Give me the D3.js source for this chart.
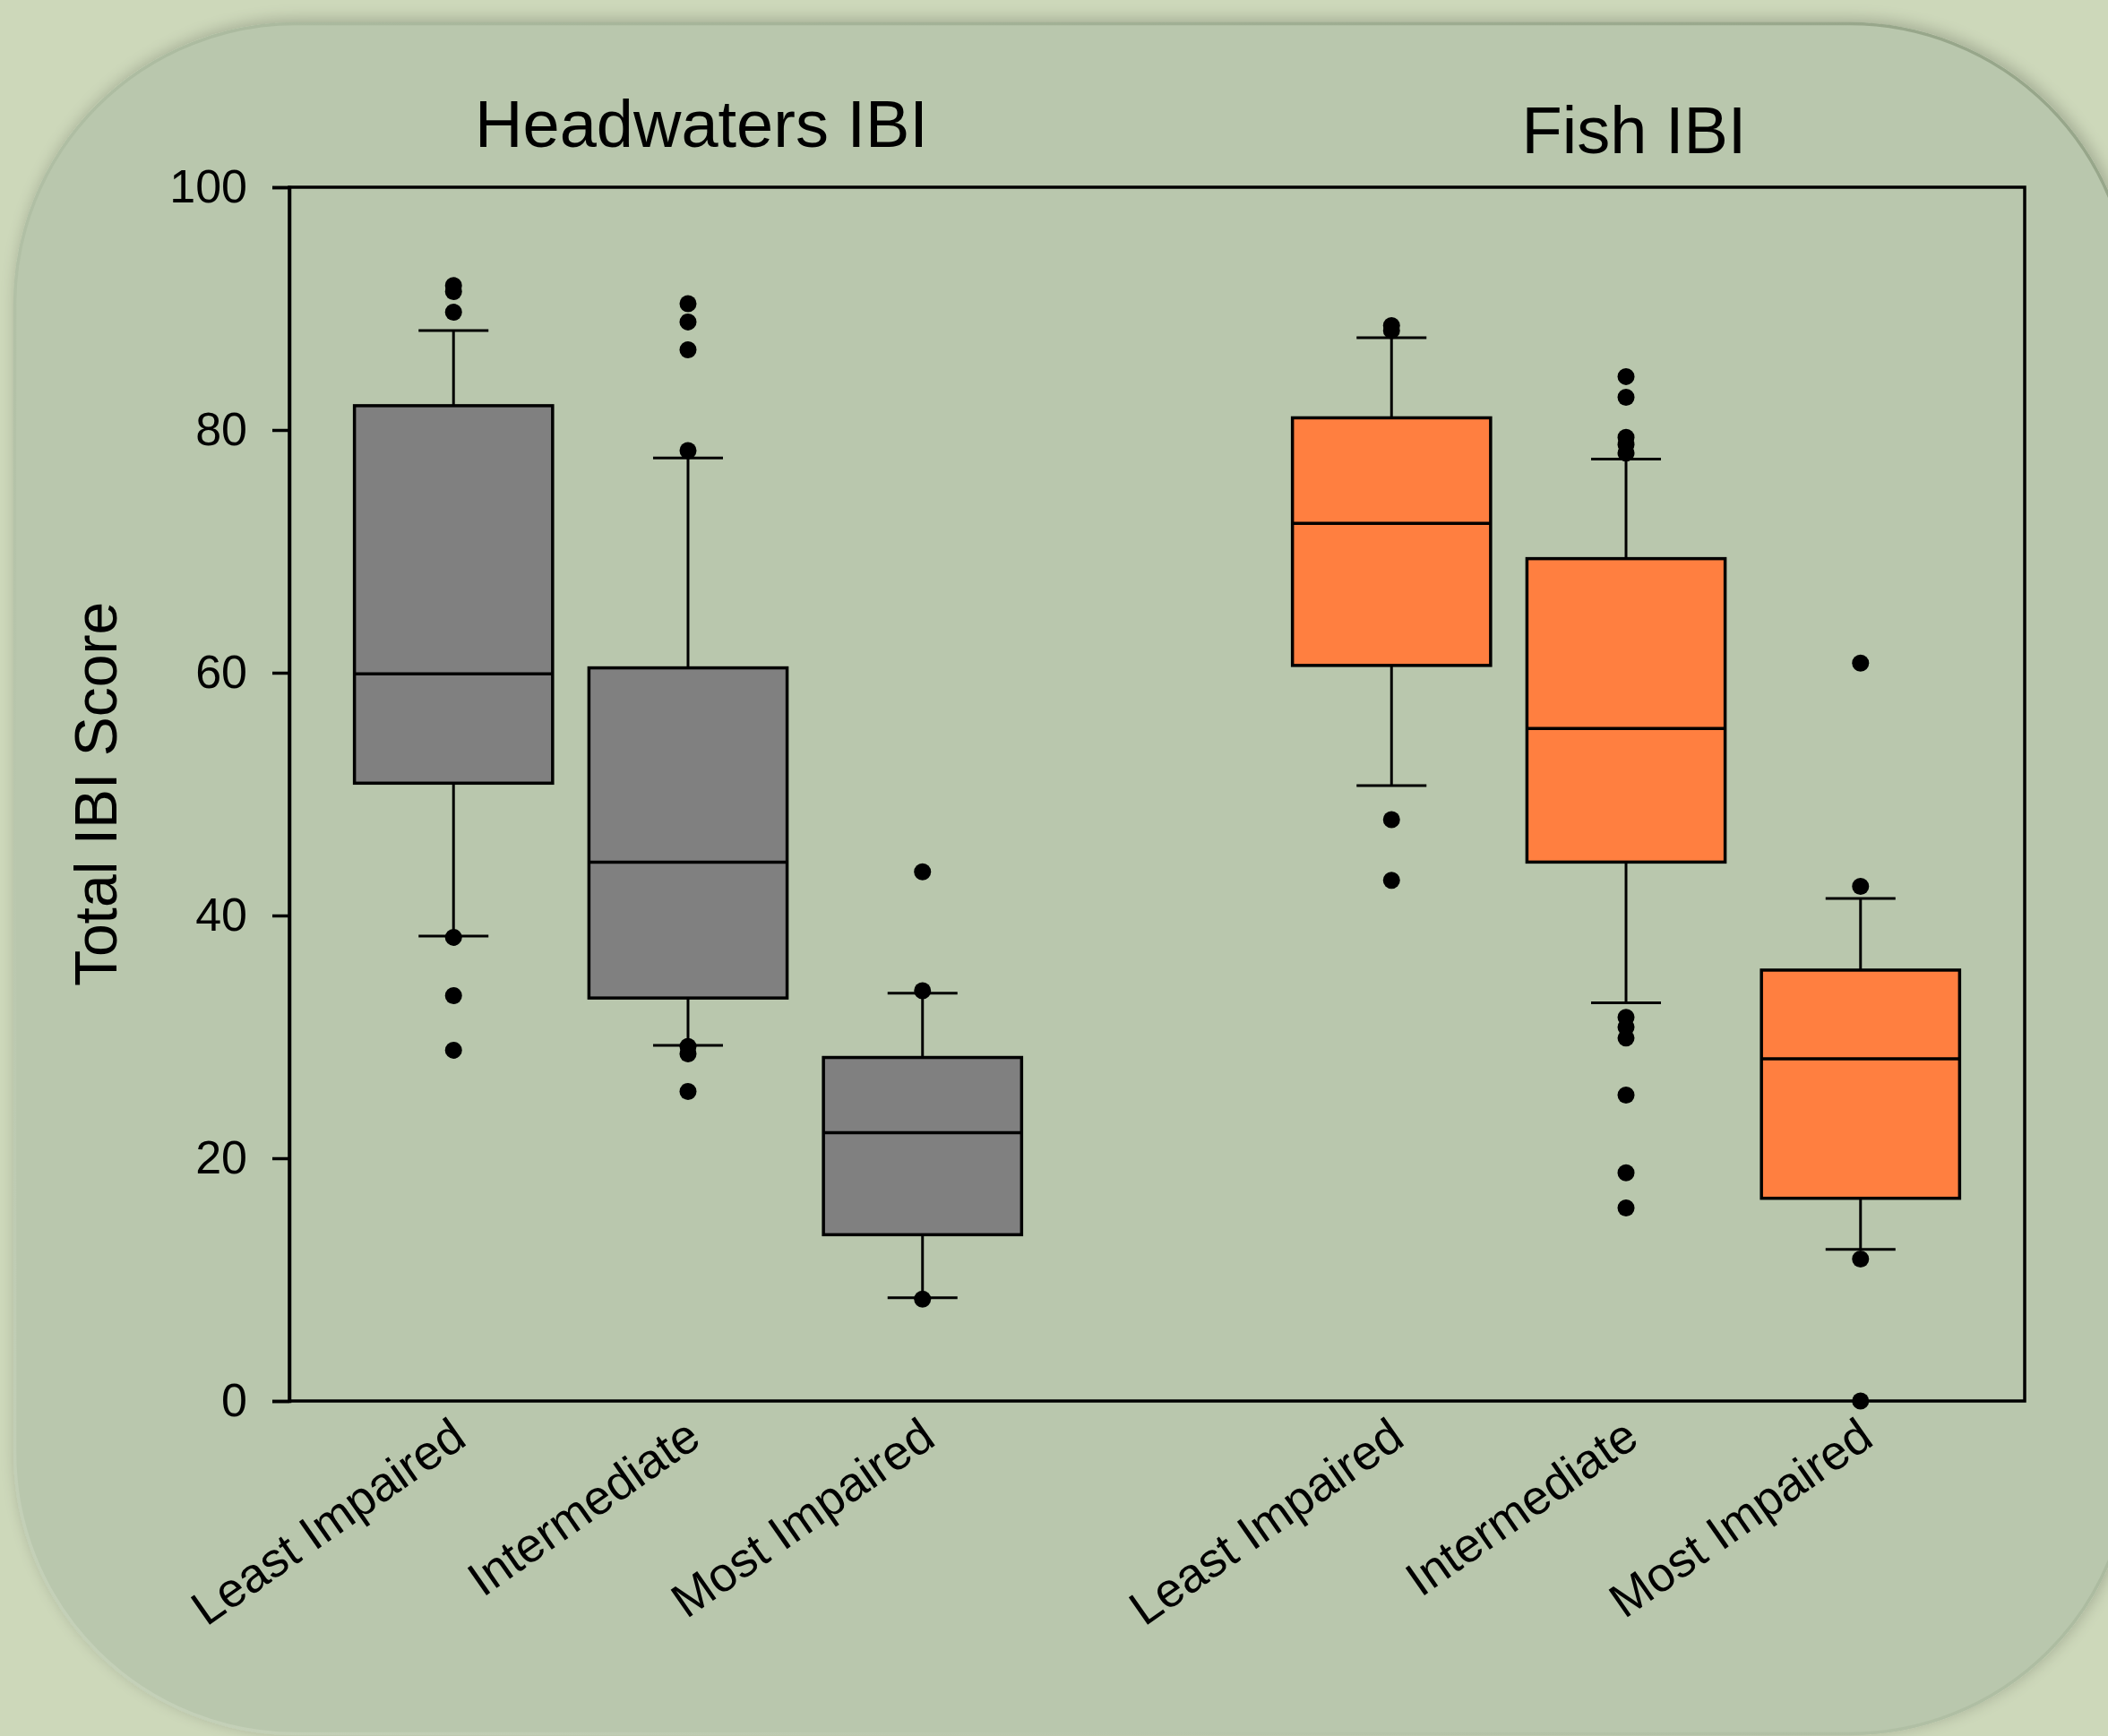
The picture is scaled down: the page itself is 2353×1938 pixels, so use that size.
<!DOCTYPE html>
<html>
<head>
<meta charset="utf-8">
<script src="https://cdn.jsdelivr.net/npm/d3@7"></script>
<style>
  html, body { margin: 0; padding: 0; background: #CDD8BA; }
  svg { display: block; }
  text { font-family: "Liberation Sans", Arial, sans-serif; fill: #000; }
</style>
</head>
<body>
<div id="chart"></div>
<script>
// ---------------- DATA ----------------
const groups = ["Headwaters IBI", "Fish IBI"];
const categories = ["Least Impaired", "Intermediate", "Most Impaired"];
const yTicks = [0, 20, 40, 60, 80, 100];

const headwatersLowerWhisker = [38.3, 29.3, 8.5];
const headwatersQ1 = [50.9, 33.2, 13.7];
const headwatersMedian = [59.9, 44.4, 22.1];
const headwatersQ3 = [82.0, 60.4, 28.3];
const headwatersUpperWhisker = [88.2, 77.7, 33.6];
const headwatersOutliers = [
  [91.9, 91.4, 89.7, 38.2, 33.4, 28.9],
  [90.4, 88.9, 86.6, 78.3, 29.2, 28.6, 25.5],
  [43.6, 33.8, 8.4]
];

const fishLowerWhisker = [50.7, 32.8, 12.5];
const fishQ1 = [60.6, 44.4, 16.7];
const fishMedian = [72.3, 55.4, 28.2];
const fishQ3 = [81.0, 69.4, 35.5];
const fishUpperWhisker = [87.6, 77.6, 41.4];
const fishOutliers = [
  [88.6, 88.2, 47.9, 42.9],
  [84.4, 82.7, 79.4, 78.8, 78.1, 31.6, 30.8, 29.9, 25.2, 18.8, 15.9],
  [60.8, 42.4, 11.7, 0]
];

const groupColors = ["#808080", "#FF7F40"];

// ---------------- BUILD ----------------
const W = 2353, H = 1938;
const margin = { left: 323, right: W - 2260, top: 209, bottom: H - 1564 };

const boxes = [];
categories.forEach((c, i) => boxes.push({
  group: 0, key: "hw|" + c, label: c,
  lo: headwatersLowerWhisker[i], q1: headwatersQ1[i], med: headwatersMedian[i],
  q3: headwatersQ3[i], hi: headwatersUpperWhisker[i], out: headwatersOutliers[i]
}));
categories.forEach((c, i) => boxes.push({
  group: 1, key: "fish|" + c, label: c,
  lo: fishLowerWhisker[i], q1: fishQ1[i], med: fishMedian[i],
  q3: fishQ3[i], hi: fishUpperWhisker[i], out: fishOutliers[i]
}));

const slots = [...boxes.slice(0, 3).map(d => d.key), "gap", ...boxes.slice(3).map(d => d.key)];

const x = d3.scalePoint().domain(slots).range([margin.left, W - margin.right]).padding(0.7);
const y = d3.scaleLinear().domain([0, 100]).range([H - margin.bottom, margin.top]);

const step = x.step();
const boxW = step * 0.845;
const capW = step * 0.298;

const svg = d3.select("#chart").append("svg").attr("width", W).attr("height", H);
const defs = svg.append("defs");

// page background
svg.append("rect").attr("width", W).attr("height", H).attr("fill", "#CDD8BA");

// rounded panel with soft shadow
const f = defs.append("filter").attr("id", "soft").attr("x", "-5%").attr("y", "-5%").attr("width", "110%").attr("height", "110%");
f.append("feGaussianBlur").attr("in", "SourceAlpha").attr("stdDeviation", 9).attr("result", "b");
f.append("feOffset").attr("in", "b").attr("dx", 3).attr("dy", -3).attr("result", "o");
f.append("feComponentTransfer").attr("in", "o").attr("result", "s")
  .append("feFuncA").attr("type", "linear").attr("slope", 0.22);
const fm = f.append("feMerge");
fm.append("feMergeNode").attr("in", "s");
fm.append("feMergeNode").attr("in", "SourceGraphic");

const eg = defs.append("linearGradient").attr("id", "edge")
  .attr("x1", "0").attr("y1", "1").attr("x2", "1").attr("y2", "0");
eg.append("stop").attr("offset", "0").attr("stop-color", "#C6D2BA");
eg.append("stop").attr("offset", "0.5").attr("stop-color", "#AEBDA2");
eg.append("stop").attr("offset", "1").attr("stop-color", "#95A488");

svg.append("rect")
  .attr("x", 15).attr("y", 25).attr("width", 2365).attr("height", 1912)
  .attr("rx", 315).attr("ry", 315)
  .attr("fill", "#B9C7AD")
  .attr("filter", "url(#soft)");
svg.append("rect")
  .attr("x", 16.5).attr("y", 26.5).attr("width", 2362).attr("height", 1909)
  .attr("rx", 314).attr("ry", 314)
  .attr("fill", "none").attr("stroke", "url(#edge)").attr("stroke-width", 3.5);

// plot frame
svg.append("rect")
  .attr("x", margin.left).attr("y", margin.top)
  .attr("width", W - margin.left - margin.right)
  .attr("height", H - margin.top - margin.bottom)
  .attr("fill", "none").attr("stroke", "#000").attr("stroke-width", 3.5);

// y axis
const yAxis = svg.append("g")
  .attr("transform", `translate(${margin.left},0)`)
  .call(d3.axisLeft(y).tickValues(yTicks).tickSize(19).tickPadding(28).tickFormat(d3.format("d")));
yAxis.select(".domain").attr("stroke", "#000").attr("stroke-width", 3.5);
yAxis.selectAll(".tick line").attr("stroke", "#000").attr("stroke-width", 3.5);
yAxis.selectAll(".tick text").attr("font-size", 52).attr("font-family", "Liberation Sans, Arial, sans-serif").attr("fill", "#000");

// y label
svg.append("text")
  .attr("transform", `translate(107,${(y(0) + y(100)) / 2}) rotate(-90)`)
  .attr("text-anchor", "middle").attr("dy", "0.35em")
  .attr("font-size", 66)
  .text("Total IBI Score");

// group titles
const titleOffsets = [{ dx: 15, baseline: 164 }, { dx: 9, baseline: 171 }];
groups.forEach((g, gi) => {
  const mid = boxes.filter(b => b.group === gi)[1].key;
  svg.append("text")
    .attr("x", x(mid) + titleOffsets[gi].dx).attr("y", titleOffsets[gi].baseline)
    .attr("text-anchor", "middle").attr("font-size", 74)
    .text(g);
});

// boxes
const bg = svg.append("g");
const b = bg.selectAll("g.box").data(boxes).enter().append("g").attr("class", "box");

// whiskers
b.append("line").attr("x1", d => x(d.key)).attr("x2", d => x(d.key))
  .attr("y1", d => y(d.q3)).attr("y2", d => y(d.hi)).attr("stroke", "#000").attr("stroke-width", 3);
b.append("line").attr("x1", d => x(d.key)).attr("x2", d => x(d.key))
  .attr("y1", d => y(d.q1)).attr("y2", d => y(d.lo)).attr("stroke", "#000").attr("stroke-width", 3);
b.append("line").attr("x1", d => x(d.key) - capW / 2).attr("x2", d => x(d.key) + capW / 2)
  .attr("y1", d => y(d.hi)).attr("y2", d => y(d.hi)).attr("stroke", "#000").attr("stroke-width", 3);
b.append("line").attr("x1", d => x(d.key) - capW / 2).attr("x2", d => x(d.key) + capW / 2)
  .attr("y1", d => y(d.lo)).attr("y2", d => y(d.lo)).attr("stroke", "#000").attr("stroke-width", 3);

// box
b.append("rect")
  .attr("x", d => x(d.key) - boxW / 2).attr("width", boxW)
  .attr("y", d => y(d.q3)).attr("height", d => y(d.q1) - y(d.q3))
  .attr("fill", d => groupColors[d.group]).attr("stroke", "#000").attr("stroke-width", 3.5);
// median
b.append("line").attr("x1", d => x(d.key) - boxW / 2).attr("x2", d => x(d.key) + boxW / 2)
  .attr("y1", d => y(d.med)).attr("y2", d => y(d.med)).attr("stroke", "#000").attr("stroke-width", 3.5);

// outliers
b.selectAll("circle").data(d => d.out.map(v => ({ key: d.key, v }))).enter().append("circle")
  .attr("cx", d => x(d.key)).attr("cy", d => y(d.v)).attr("r", 9.5).attr("fill", "#000");

// x labels
svg.append("g").selectAll("text").data(boxes).enter().append("text")
  .attr("transform", d => `translate(${x(d.key) + 6},${y(0) + 32}) rotate(-35)`)
  .attr("text-anchor", "end").attr("dy", "0.35em")
  .attr("font-size", 54)
  .text(d => d.label);
</script>
</body>
</html>
